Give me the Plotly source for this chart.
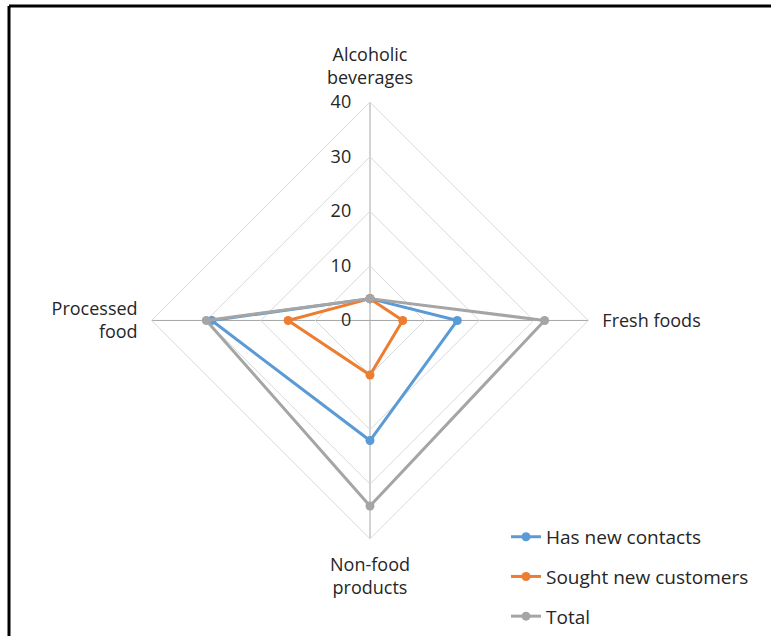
import plotly.graph_objects as go

categories = ["Alcoholic<br>beverages", "Fresh foods", "Non-food<br>products", "Processed<br>food"]
has_new_contacts = [4, 16, 22, 29]
sought_new_customers = [4, 6, 10, 15]
total = [4, 32, 34, 30]
radial_ticks = [0, 10, 20, 30, 40]

series = [
    ("Has new contacts", has_new_contacts, "#5B9BD5"),
    ("Sought new customers", sought_new_customers, "#ED7D31"),
    ("Total", total, "#A5A5A5"),
]

W, H = 771, 636
cx, cy, R = 370, 323, 220

fig = go.Figure()
for i, (name, vals, col) in enumerate(series):
    fig.add_trace(go.Scatterpolar(
        r=vals + vals[:1],
        theta=categories + categories[:1],
        mode="lines+markers",
        name=name,
        legendgroup=f"g{i}",
        line=dict(color=col, width=3),
        marker=dict(color=col, size=9),
    ))

font = dict(family="'Open Sans', sans-serif", size=18, color="#262626")
legend_font = dict(family="'Open Sans', sans-serif", size=19, color="#262626")

fig.update_layout(
    width=W, height=H,
    margin=dict(l=0, r=0, t=0, b=0),
    paper_bgcolor="white",
    font=font,
    showlegend=True,
    legend=dict(
        x=506 / W, y=1 - 522 / H, xanchor="left", yanchor="top",
        traceorder="grouped", tracegroupgap=12,
        font=legend_font, bgcolor="rgba(0,0,0,0)",
    ),
    polar=dict(
        domain=dict(x=[(cx - R) / W, (cx + R) / W], y=[(H - cy - R) / H, (H - cy + R) / H]),
        bgcolor="white",
        gridshape="linear",
        radialaxis=dict(
            range=[0, 40], tickvals=radial_ticks, ticktext=[str(v) for v in radial_ticks],
            angle=90, tickangle=90, side="counterclockwise",
            showline=False, ticks="outside", ticklen=12, tickcolor="rgba(0,0,0,0)",
            gridcolor="#D9D9D9", gridwidth=1,
            tickfont=font,
        ),
        angularaxis=dict(
            rotation=90, direction="clockwise",
            showline=True, linecolor="#D9D9D9", linewidth=1,
            gridcolor="#A6A6A6", gridwidth=1,
            ticks="outside", ticklen=10, tickcolor="rgba(0,0,0,0)",
            tickfont=font,
        ),
    ),
    shapes=[
        dict(type="line", xref="paper", yref="paper", x0=9 / W, x1=9 / W, y0=-0.01, y1=1 - 6 / H,
             line=dict(color="black", width=3)),
        dict(type="line", xref="paper", yref="paper", x0=9 / W, x1=1.01, y0=1 - 6 / H, y1=1 - 6 / H,
             line=dict(color="black", width=3)),
    ],
)

fig.write_html("out.html")
